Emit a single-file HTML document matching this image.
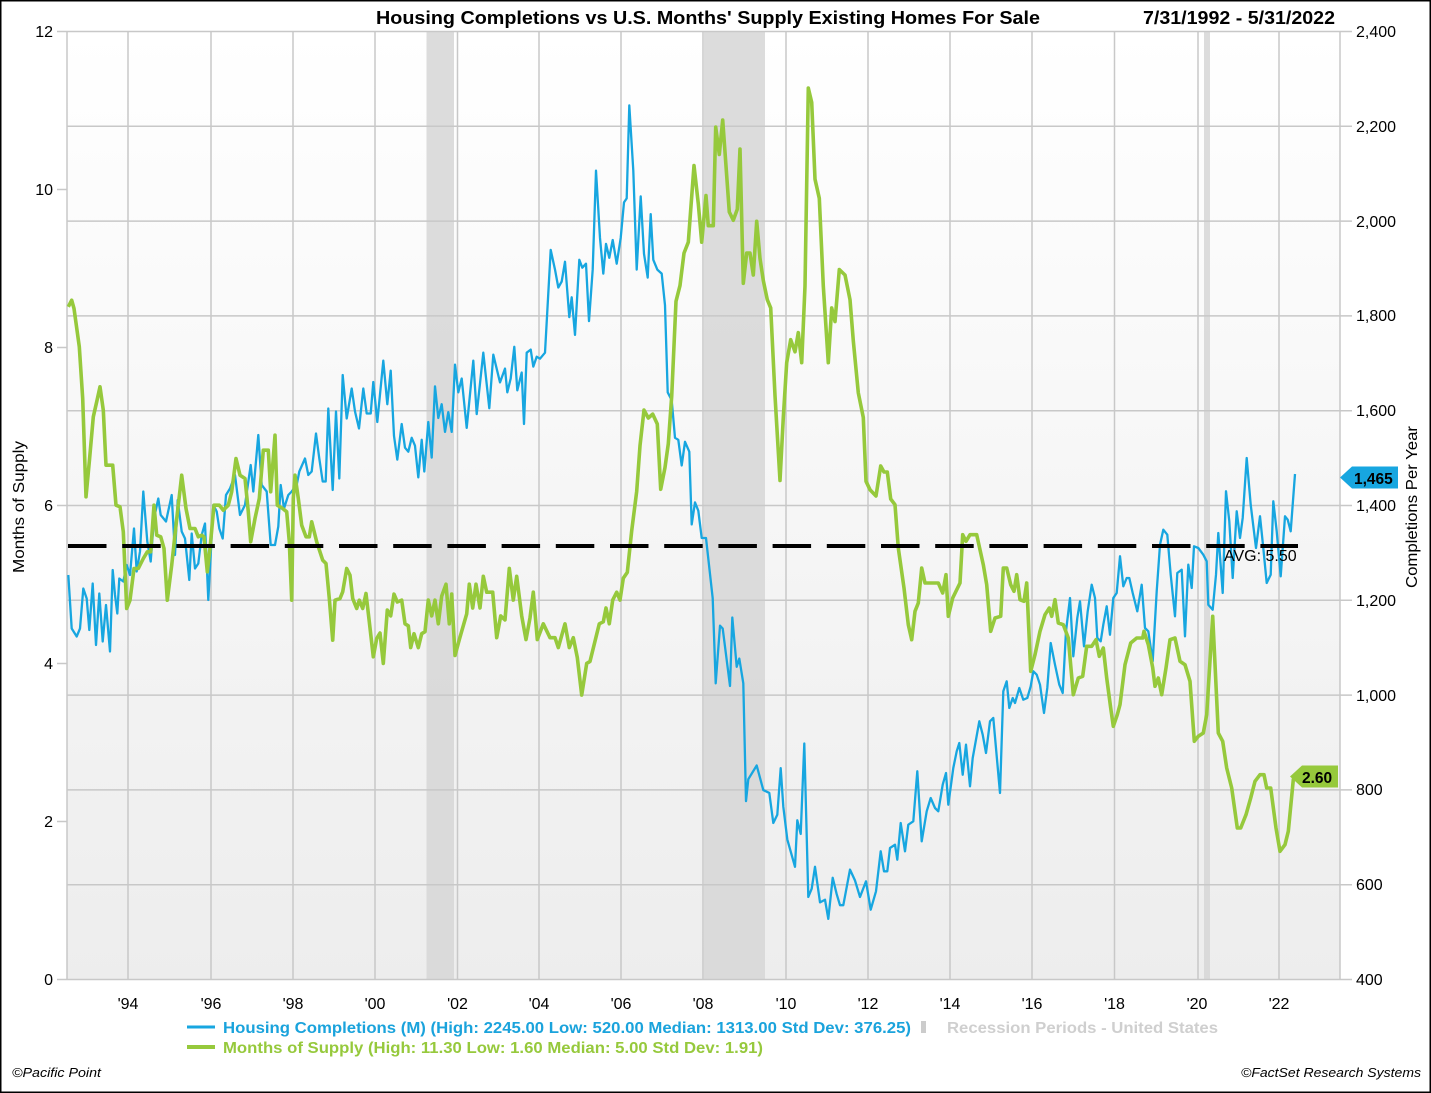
<!DOCTYPE html>
<html><head><meta charset="utf-8"><style>
html,body{margin:0;padding:0;background:#fff;}
svg{display:block;font-family:"Liberation Sans",Arial,sans-serif;}
</style></head><body>
<svg width="1431" height="1093" viewBox="0 0 1431 1093" xmlns="http://www.w3.org/2000/svg">
<defs>
<linearGradient id="bg" x1="0" y1="0" x2="0" y2="1">
<stop offset="0" stop-color="#ffffff"/><stop offset="1" stop-color="#ededed"/>
</linearGradient>
</defs>
<rect x="0" y="0" width="1431" height="1093" fill="#fff"/>
<rect x="67" y="31.5" width="1273" height="948" fill="url(#bg)"/>
<!-- recessions -->
<g fill="#d6d6d6" opacity="0.85">
<rect x="426.5" y="31.5" width="27.5" height="948"/>
<rect x="704" y="31.5" width="61" height="948"/>
<rect x="1204" y="31.5" width="6" height="948"/>
</g>
<!-- grid -->
<g stroke="#c8c8c8" stroke-width="1.5" fill="none">
<path d="M67 31.5H1340M67 126.3H1340M67 221.1H1340M67 315.9H1340M67 410.7H1340M67 505.5H1340M67 600.3H1340M67 695.1H1340M67 789.9H1340M67 884.7H1340M67 979.5H1340"/>
<path d="M67 31.5V979.5M128 31.5V979.5M211 31.5V979.5M293 31.5V979.5M375 31.5V979.5M457.5 31.5V979.5M539 31.5V979.5M621 31.5V979.5M703 31.5V979.5M786 31.5V979.5M868 31.5V979.5M950 31.5V979.5M1032 31.5V979.5M1114.5 31.5V979.5M1198 31.5V979.5M1279 31.5V979.5M1340 31.5V979.5"/>
<path d="M57 31.5H67M57 189.5H67M57 347.5H67M57 505.5H67M57 663.5H67M57 821.5H67M57 979.5H67"/>
<path d="M1340 31.5H1352M1340 126.3H1352M1340 221.1H1352M1340 315.9H1352M1340 410.7H1352M1340 505.5H1352M1340 600.3H1352M1340 695.1H1352M1340 789.9H1352M1340 884.7H1352M1340 979.5H1352"/>
</g>
<!-- blue series -->
<polyline fill="none" stroke="#17a6e0" stroke-width="2.3" stroke-linejoin="round" points="68.3,575 71.7,628.5 76.7,636.5 80,628.5 83.3,588.5 86.7,598.5 89.3,630 92.7,583.5 96,645 99.3,593.5 102.7,641.5 106,605 110,651.5 112.7,570 115,595 117.3,613.5 119.3,578.5 123.3,581.5 126.7,565 130,575 134,528.5 136.7,571.5 140,551.5 143.3,491.5 147.3,541.5 150.7,561.5 154,518.5 158.3,498.5 160.7,515 166,521.5 171.7,495 175,555 177.7,500 181.7,531.5 185,538.5 189.3,580 191.7,533.5 195,568.5 198.3,563.5 201.7,535 205,523.5 208.3,600 210,568.5 213.3,505 216.7,511.5 219.3,528.5 222.7,538.5 226,495 230,488.5 235,475 240,515 245,505 250.7,465 253.3,491.5 258.3,435 261.7,485 266.7,491.5 270.7,545 275,545 278.3,526.5 280.7,485 284,508.5 288.3,495 291.7,491.5 296.7,485 299.3,471.5 305,458.5 308.3,475 311.7,471.5 316,433.5 319.3,458.5 322.7,481.5 325.7,481.5 328.3,408.5 332.7,490 336,411.5 339.3,478.5 342.7,375 346.7,418.5 351.7,388.5 355,411.5 359,428.5 363.3,388.5 366.7,413.5 370.7,413.5 373.3,382 377.3,422 383.3,360.7 387.3,404.2 390.7,370.6 394,435.9 397.3,459.6 401.7,424 405,447.7 408.3,451.7 411.7,437.8 415,445.7 418.3,477.4 421.7,439.8 424.3,471.5 428.3,422 431.7,457.6 435,386.4 438.3,418 441.7,404.2 445,431.9 448.3,412.1 451.7,431.9 455,364.6 458.3,392.3 461.7,378.5 466.7,427.9 473.3,360.7 476.7,414.1 483.3,352.7 489.3,408.2 493.3,354.7 500,382.4 505,368.6 507.3,392.3 510.7,378.5 514.3,346.8 517.3,390.3 521.7,372.5 524,424 526.7,352.7 530.7,349.6 533.3,366.6 536.7,356.7 540,358.7 545,352.7 550.7,249.9 555,269.6 558.3,287.5 561.7,281.5 565,261.7 569.3,317.1 571.7,297.3 575,334.9 579.3,259.8 582.3,267.7 586,263.7 589,321.1 592.7,269.6 596,170.7 600,238 603.3,273.6 606,243.9 609.3,257.8 612.7,240 616.7,263.7 620.7,238 624,202.4 626.7,198.4 629.3,105.4 633.3,170.7 636.7,269.6 640.7,196.4 644,253.8 647.7,277.6 650.7,214.2 653.3,259.8 657.3,269.6 661.7,273.6 665,305.3 667.7,392.3 671.7,400.2 675,437.8 678.3,439.8 681.7,465.5 685,441.8 689.3,451.7 691.7,524.4 695,502.4 698.3,510.7 701.7,538 706,538 712.7,598.3 715.7,683.3 720,625.7 722.7,628.5 730,686 732.3,617.5 736.7,666.8 739.3,658.6 743.3,683.3 746,801.1 748.3,779.2 756.7,765.5 763.3,790.1 769.3,792.9 773.3,823 777.3,814.8 780.7,768.2 783.3,806.6 787.3,839.4 795,866.8 797.3,820.3 800.7,833.9 804.3,743.5 808.3,897 811.7,888.7 815,866.8 820,902.4 825,899.7 828.3,918.9 832.7,877.8 836.7,894.2 840,905.2 843.3,905.2 850,869.6 855,880.5 860,897 866,881.3 870.7,909.7 876,891.3 880.7,851.3 884,871.3 887.3,871.3 890,848 895,844.7 897.3,859.7 900.7,823 905,851.3 908.3,824.7 913.3,821.3 917.3,771.3 921.7,841.3 926.7,811.3 930.7,798 935,808 938.3,811.3 942.7,784.7 946,773 948.3,804.7 953.3,768 956.7,751.3 959.3,743 962.7,774.7 966,744.7 970,786.3 972.7,758 979.3,721.3 982.7,734.7 986,753 990,721.3 993.3,718 1000,793 1003.3,691.3 1006.7,681.3 1009.3,708 1012.7,698 1015,703 1019.3,688 1023.3,699.7 1027.3,698 1030.7,686.3 1033.3,671.3 1036.7,674.7 1040,684.7 1044,713 1047.3,688 1050.7,643 1055,664.7 1059.3,684.7 1062.7,693 1066,631.3 1070,598 1073.3,656.3 1077.3,618 1080,601.3 1084,646.3 1087.7,611.3 1091.7,584.7 1095,598 1097.3,638 1100.7,641.3 1103.3,624.7 1106.7,606.3 1110,634.7 1113.3,598 1116.7,593 1120,556.3 1123.3,586.3 1126.7,578 1129.3,578 1132.7,593 1137.3,611.3 1141.7,584.7 1145,628 1148.3,631.3 1152.7,661.3 1156.7,591.3 1160,544.7 1163.3,529.7 1167.3,534.7 1170.7,574.7 1175,616.3 1177.3,573 1181.7,569.7 1185,636.3 1188.3,564.7 1191.7,588 1194,546.3 1198.3,548 1203.3,554.7 1206.7,561.3 1208.3,604.7 1212.7,609.7 1216,574.7 1218.3,533 1222.7,593 1226,491.3 1229.3,521.3 1232.7,578 1236.7,511.3 1240,538 1242.7,518 1246.7,458 1250.7,504.7 1256,548 1260,516.3 1263.3,548 1266.7,583 1270.7,574.7 1273.3,501.3 1276.7,531.3 1280.7,576.3 1285,516.3 1287.7,519.7 1290.7,531.3 1295,474"/>
<!-- green series -->
<polyline fill="none" stroke="#96c93c" stroke-width="3.6" stroke-linejoin="round" points="68.3,306.8 71.7,300.2 74,308.5 79.3,346.8 82.7,398.5 86,496.8 89.3,461.8 93.3,416.8 96.7,401.8 100,386.8 103.3,410.2 106,465.2 112.7,465.2 116,505.2 120,506.8 123.3,531.8 126.7,608.5 130,600.2 134,568.5 138.3,568.5 143.3,558.5 147.3,551.8 150.7,551.8 154,505.2 156.7,535.2 160.7,536.8 164,548.5 167.3,600.2 171.7,565.2 176,525.2 181.7,475.2 186,508.5 190,528.5 195,528.5 198.3,536.8 201.7,535.2 204,536.8 207.3,571.8 210,548.5 214,505.2 219.3,505.2 223.3,510.2 228.3,505.2 231.7,491.8 236,458.5 240,475.2 245,478.5 248.3,511.8 250.7,541.8 255,518.5 259.3,498.5 263.3,450.2 268.3,450.2 270.7,491.8 275,435.2 277.3,505.2 282.7,508.5 286.7,511.8 289.3,541.8 291.7,600.2 293.3,498.5 295,475.2 298.3,498.5 301.7,525.2 306,536.8 309.3,536.8 311.7,521.8 316.7,541.8 322.7,560.2 326,563.5 329.3,598.5 332.7,640.2 335,600.2 340,598.5 342.7,591.8 346.7,568.5 350,575.2 352.7,598.5 356.7,608.5 359.3,600.2 362.7,608.5 366,593.5 369.3,621.8 373.3,656.8 376.7,638.5 380,633 383.3,663.4 387.3,610 390.7,615.9 394,594.1 397.3,602 401.7,600.1 405,623.8 408.3,625.8 410.7,647.6 414,633.7 418.3,647.6 421.7,633.7 425,631.7 428.3,600.1 431.7,615.9 435,600.1 438.3,623.8 441.7,596.1 446,584.2 449.3,623.8 451.7,594.1 455,655.5 459.3,639.6 466.7,613.9 469.3,584.2 472.7,608 476,584.2 480,608 483.3,576.3 486.7,592.2 492.7,592.2 496.7,637.7 500.7,615.9 505,619.9 509.3,568.4 513.3,600.1 516.7,576.3 521.7,615.9 526,639.6 530,617.9 533.3,592.2 537.3,639.6 543.3,623.8 550,637.7 555,637.7 558.3,647.6 565,623.8 569.3,647.6 573.3,637.7 577.3,657.5 581.7,695.1 586.7,663.4 590,661.4 599.3,623.8 603.3,621.8 606,608 609.3,623.8 612.7,600.1 616.7,592.2 620,600.1 623.3,578.2 627.3,572.4 631.7,530.8 636.7,491.3 640,445.7 644,410.1 648.3,418 652.7,414.1 657.3,424 660.7,489.3 665,467.5 668.3,443.8 671.7,396.3 676,301.3 680,285.5 684,253.1 688.3,242.2 694,165.5 698.3,203.8 701.7,242.2 706,195.6 708.3,225.7 713.3,225.7 715.7,127.1 719.3,154.5 722.7,120 729.3,212 733.3,220.2 737.3,209.3 740,149 743.3,283.3 746.7,253.1 750,253.1 753.3,275 756.7,221.3 760,258.6 763.3,280.5 767.3,299.7 770.7,307.9 775,395.6 780,480.5 783.3,417.5 786.7,362.7 790.7,339.7 795,351.8 798.3,332.6 801.7,362.7 805,286 808.3,88 811.7,102.4 815,179.2 819.3,198.3 823.3,286 828.3,362.7 831.7,307.9 835,321.6 839.3,269.6 845,275 850,299.7 853.3,340.8 858.3,392.8 863.3,417.5 866,481.3 870,489.7 876,496 880.7,466 884,472 887.3,472 890.7,499 895,504.7 898.3,548 904,588 908.3,624.7 911.7,639.7 915,611.3 918.3,603 921.7,568 925,583 938.3,583 942.7,593 946,574.7 948.3,616.3 952.7,598 960,583 962.7,534.7 966,541.3 970,534.7 976.7,534.7 983.3,564.7 986.7,584.7 990.7,631.3 995,618 1000.7,616.3 1003.3,568 1006.7,568 1010.7,584.7 1014,591.3 1016.7,574.7 1020,599.7 1024,601.3 1026.7,583 1030.7,671.3 1035,654.7 1040,631.3 1045,614.7 1049.3,608 1051.7,616.3 1055,599.7 1058.3,623 1063.3,624.7 1068.3,638 1073.3,694.7 1078.3,678 1082.7,676.3 1086.7,646.3 1091.7,646.3 1096,639.7 1099.3,656.3 1103.3,648 1106.7,678 1110.7,708 1113.3,726.3 1117.3,714.7 1120,704.7 1125,664.7 1130.7,643 1136.7,638 1142.7,638 1144,631.3 1148.3,644.7 1152.7,667.7 1155,686.3 1158.3,678 1161.7,694.7 1166,668 1170,639.7 1175,638 1180,661.3 1185,664.7 1190,681.3 1194.3,741.3 1198.3,736.3 1203.3,733 1206.7,714.7 1212.7,616.3 1218.3,733 1222.7,741.3 1226.7,768 1231.7,788 1237.3,828 1240.7,828 1246,814.7 1250.7,798 1255,781.3 1260,774.7 1264,774.7 1266.7,788 1270.7,788 1276,828 1280,851.3 1285,844.7 1288.3,831.3 1293.3,779.7 1295,774"/>
<!-- average line -->
<line x1="68" y1="546" x2="1298" y2="546" stroke="#000" stroke-width="4" stroke-dasharray="38.5 15.7"/>
<text x="1224" y="561" font-size="16" fill="#000">AVG: 5.50</text>
<!-- end value tags -->
<polygon points="1340,477.5 1352,466.5 1398,466.5 1398,488.5 1352,488.5" fill="#17a6e0"/>
<text x="1354" y="484" font-size="15.5" font-weight="bold" fill="#000">1,465</text>
<polygon points="1290,776.5 1302,765.5 1338,765.5 1338,787.5 1302,787.5" fill="#96c93c"/>
<text x="1302" y="783" font-size="15.5" font-weight="bold" fill="#000">2.60</text>
<!-- left axis labels -->
<g font-size="16" fill="#000" text-anchor="end">
<text x="53" y="37">12</text>
<text x="53" y="195">10</text>
<text x="53" y="353">8</text>
<text x="53" y="511">6</text>
<text x="53" y="669">4</text>
<text x="53" y="827">2</text>
<text x="53" y="985">0</text>
</g>
<!-- right axis labels -->
<g font-size="16" fill="#000">
<text x="1356" y="37">2,400</text>
<text x="1356" y="132">2,200</text>
<text x="1356" y="227">2,000</text>
<text x="1356" y="321">1,800</text>
<text x="1356" y="416">1,600</text>
<text x="1356" y="511">1,400</text>
<text x="1356" y="606">1,200</text>
<text x="1356" y="701">1,000</text>
<text x="1356" y="795">800</text>
<text x="1356" y="890">600</text>
<text x="1356" y="985">400</text>
</g>
<!-- x labels -->
<g font-size="16" fill="#000" text-anchor="middle">
<text x="128" y="1009">'94</text>
<text x="211" y="1009">'96</text>
<text x="293" y="1009">'98</text>
<text x="375" y="1009">'00</text>
<text x="457.5" y="1009">'02</text>
<text x="539" y="1009">'04</text>
<text x="621" y="1009">'06</text>
<text x="703" y="1009">'08</text>
<text x="786" y="1009">'10</text>
<text x="868" y="1009">'12</text>
<text x="950" y="1009">'14</text>
<text x="1032" y="1009">'16</text>
<text x="1114.5" y="1009">'18</text>
<text x="1197" y="1009">'20</text>
<text x="1279" y="1009">'22</text>
</g>
<!-- axis titles -->
<text transform="translate(24,507) rotate(-90)" font-size="16" text-anchor="middle" textLength="132" lengthAdjust="spacingAndGlyphs">Months of Supply</text>
<text transform="translate(1417,507) rotate(-90)" font-size="16" text-anchor="middle" textLength="162" lengthAdjust="spacingAndGlyphs">Completions Per Year</text>
<!-- title -->
<text x="376" y="24" font-size="18" font-weight="bold" textLength="664" lengthAdjust="spacingAndGlyphs">Housing Completions vs U.S. Months' Supply Existing Homes For Sale</text>
<text x="1143" y="24" font-size="18" font-weight="bold" textLength="192" lengthAdjust="spacingAndGlyphs">7/31/1992 - 5/31/2022</text>
<!-- legend -->
<line x1="187" y1="1027" x2="215" y2="1027" stroke="#17a6e0" stroke-width="3"/>
<text x="223" y="1033" font-size="16" font-weight="bold" fill="#1aa3dc" textLength="688" lengthAdjust="spacingAndGlyphs">Housing Completions (M) (High: 2245.00 Low: 520.00 Median: 1313.00 Std Dev: 376.25)</text>
<rect x="921" y="1021" width="5" height="12" fill="#cccccc"/>
<text x="947" y="1033" font-size="16" font-weight="bold" fill="#cfcfcf" textLength="271" lengthAdjust="spacingAndGlyphs">Recession Periods - United States</text>
<line x1="187" y1="1047" x2="215" y2="1047" stroke="#96c93c" stroke-width="4"/>
<text x="223" y="1053" font-size="16" font-weight="bold" fill="#96c93c" textLength="540" lengthAdjust="spacingAndGlyphs">Months of Supply (High: 11.30 Low: 1.60 Median: 5.00 Std Dev: 1.91)</text>
<!-- footer -->
<text x="12" y="1077" font-size="13" font-style="italic" fill="#000" textLength="89" lengthAdjust="spacingAndGlyphs">©Pacific Point</text>
<text x="1241" y="1077" font-size="13" font-style="italic" fill="#000" textLength="180" lengthAdjust="spacingAndGlyphs">©FactSet Research Systems</text>
<!-- border -->
<rect x="0.75" y="0.75" width="1429.5" height="1091.5" fill="none" stroke="#000" stroke-width="1.5"/>
</svg>
</body></html>
